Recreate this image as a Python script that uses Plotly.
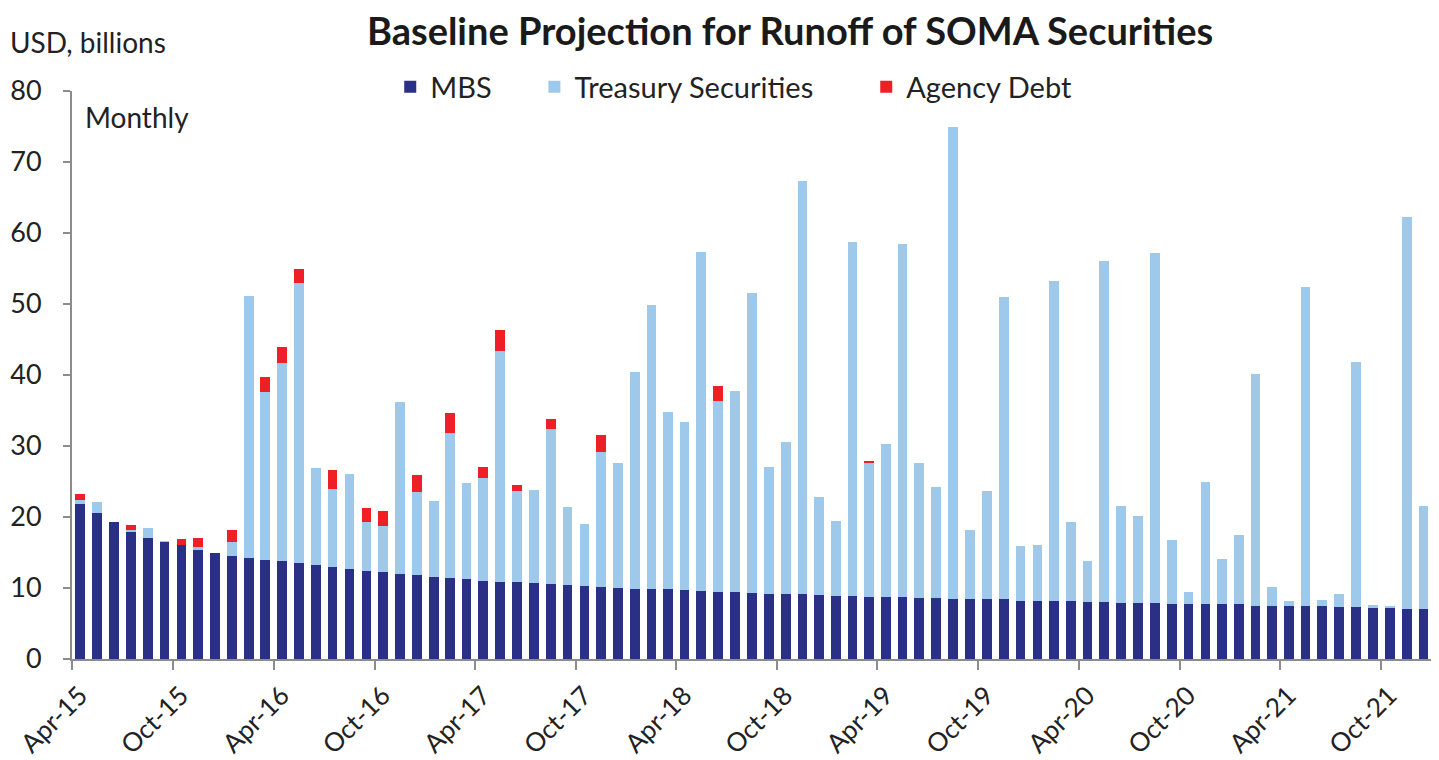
import pandas as pd
import plotly.graph_objects as go

# monthly runoff, USD billions, Apr-15 .. Dec-21
months = pd.date_range('2015-04-01', periods=81, freq='MS')

mbs = [21.8, 20.6, 19.3, 18.0, 17.1, 16.5, 16.0, 15.4, 14.9, 14.5,
       14.2, 14.0, 13.8, 13.5, 13.2, 13.0, 12.7, 12.4, 12.2, 12.0,
       11.8, 11.6, 11.4, 11.2, 11.0, 10.9, 10.8, 10.7, 10.5, 10.4,
       10.3, 10.1, 10.0, 9.9, 9.9, 9.8, 9.7, 9.6, 9.4, 9.4,
       9.3, 9.2, 9.2, 9.1, 9.0, 8.9, 8.9, 8.8, 8.7, 8.7,
       8.6, 8.6, 8.5, 8.5, 8.4, 8.4, 8.2, 8.2, 8.2, 8.1,
       8.0, 8.0, 7.9, 7.9, 7.9, 7.8, 7.8, 7.7, 7.7, 7.7,
       7.5, 7.5, 7.5, 7.4, 7.4, 7.3, 7.3, 7.25, 7.2, 7.1,
       7.1]

treasury = [0.6, 1.5, 0.0, 0.1, 1.3, 0.1, 0.0, 0.4, 0.0, 2.0,
            36.9, 23.6, 27.9, 39.4, 13.7, 11.0, 13.4, 6.9, 6.6, 24.2,
            11.7, 10.7, 20.4, 13.6, 14.5, 32.5, 12.9, 13.1, 21.9, 11.0,
            8.7, 19.0, 17.6, 30.5, 39.9, 25.0, 23.7, 47.7, 27.0, 28.4,
            42.3, 17.8, 21.4, 58.2, 13.8, 10.6, 49.8, 18.9, 21.6, 49.7,
            19.0, 15.6, 66.5, 9.7, 15.2, 42.6, 7.7, 7.9, 45.1, 11.2,
            5.8, 48.0, 13.6, 12.3, 49.3, 8.9, 1.7, 17.2, 6.4, 9.7,
            32.6, 2.7, 0.6, 45.0, 0.9, 1.8, 34.5, 0.35, 0.25, 55.1,
            14.4]

agency = [0.9, 0, 0, 0.8, 0, 0, 0.9, 1.2, 0, 1.7,
          0, 2.1, 2.2, 2.0, 0, 2.6, 0, 2.0, 2.0, 0,
          2.4, 0, 2.8, 0, 1.5, 3.0, 0.8, 0, 1.4, 0,
          0, 2.4, 0, 0, 0, 0, 0, 0, 2.0, 0,
          0, 0, 0, 0, 0, 0, 0, 0.2, 0, 0,
          0, 0, 0, 0, 0, 0, 0, 0, 0, 0,
          0, 0, 0, 0, 0, 0, 0, 0, 0, 0,
          0, 0, 0, 0, 0, 0, 0, 0, 0, 0,
          0]

FONT = 'Lato'
AXIS_GREY = '#8c8c8c'

fig = go.Figure()

# one legend per series so the entries can sit where the original has them
series = [('MBS', mbs, '#2b3087', 'legend', 0.234),
          ('Treasury Securities', treasury, '#9fc9ea', 'legend2', 0.340),
          ('Agency Debt', agency, '#ee1f25', 'legend3', 0.584)]

legends = {}
for name, vals, colour, leg, lx in series:
    fig.add_trace(go.Bar(
        name=name, x=months, y=vals,
        xperiod='M1', xperiodalignment='middle',
        marker=dict(color=colour, line=dict(width=0)),
        legend=leg,
    ))
    legends[leg] = dict(orientation='h', x=lx, xanchor='left',
                        y=1.007, yanchor='middle',
                        font=dict(size=29), bgcolor='rgba(0,0,0,0)')

# the page body has an 8px margin, so the figure is 8px smaller each way
fig.update_layout(
    barmode='stack',
    bargap=0.4,
    width=1431, height=752,
    margin=dict(l=64, r=7, t=83, b=101),
    plot_bgcolor='white', paper_bgcolor='white',
    font=dict(family=FONT, color='#222222', size=27),
    title=dict(text='<b>Baseline Projection for Runoff of SOMA Securities</b>',
               x=0.5465, xanchor='center', y=0.968, yanchor='middle',
               font=dict(size=38, color='#1a1a1a')),
    showlegend=True,
    **legends,
)

fig.update_xaxes(
    type='date',
    range=['2015-04-01', '2022-01-01'],
    tick0='2015-04-01', dtick='M6', tickformat='%b-%y',
    tickangle=-45, ticks='outside', ticklen=9, tickwidth=2,
    tickcolor=AXIS_GREY, showline=True, linecolor=AXIS_GREY, linewidth=2,
    showgrid=False, tickfont=dict(size=26),
    ticklabelshift=8, automargin=False,
)

fig.update_yaxes(
    range=[0, 80], dtick=10,
    ticks='outside', ticklen=7, tickwidth=2, tickcolor=AXIS_GREY,
    showline=True, linecolor=AXIS_GREY, linewidth=2,
    showgrid=False, zeroline=False, tickfont=dict(size=27),
    ticklabelstandoff=16, automargin=False,
)

fig.add_annotation(text='Monthly', xref='paper', yref='paper',
                   x=0.008, y=0.954, xanchor='left', yanchor='middle',
                   showarrow=False, font=dict(size=28))
fig.add_annotation(text='USD, billions', xref='paper', yref='paper',
                   x=-0.047, y=1.086, xanchor='left', yanchor='middle',
                   showarrow=False, font=dict(size=28))

fig.write_html('out.html')
